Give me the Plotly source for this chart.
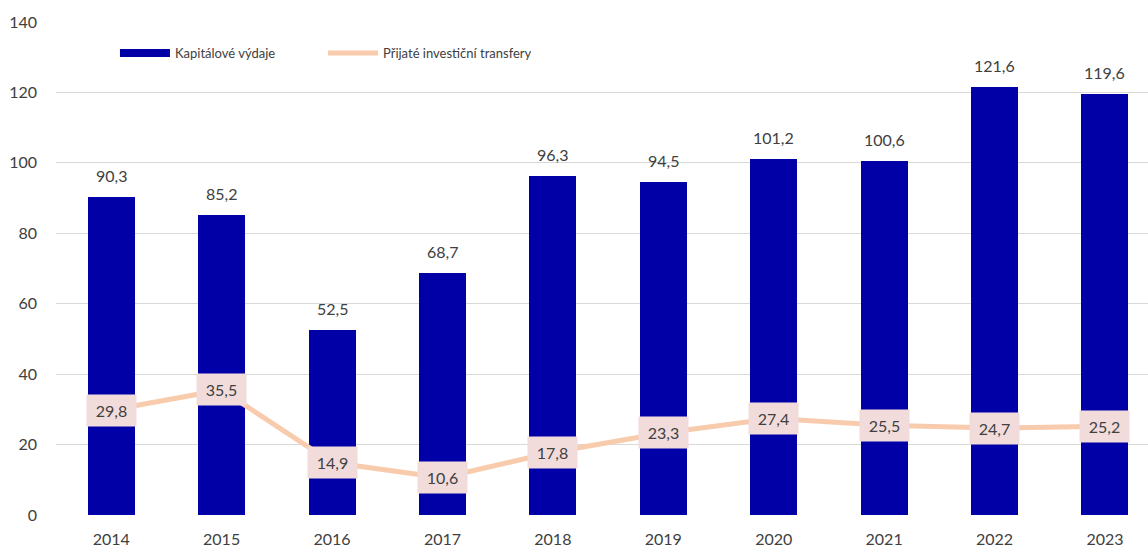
import plotly.graph_objects as go

years = ["2014", "2015", "2016", "2017", "2018", "2019", "2020", "2021", "2022", "2023"]
kapitalove = [90.3, 85.2, 52.5, 68.7, 96.3, 94.5, 101.2, 100.6, 121.6, 119.6]
transfery = [29.8, 35.5, 14.9, 10.6, 17.8, 23.3, 27.4, 25.5, 24.7, 25.2]
y_ticks = [0, 20, 40, 60, 80, 100, 120, 140]

def fmt(v):
    return f"{v:.1f}".replace(".", ",")

FONT = "Lato, Open Sans, sans-serif"
TXT = "#404040"
BAR_C = "#0000A6"
LINE_C = "#F8CBAD"

idx = list(range(len(years)))

fig = go.Figure()
fig.add_trace(go.Bar(
    x=idx, y=kapitalove, width=0.426, marker=dict(color=BAR_C, line=dict(width=0)),
    showlegend=False, name="Kapitálové výdaje",
))
fig.add_trace(go.Scatter(
    x=idx, y=transfery, mode="lines", line=dict(color=LINE_C, width=5),
    showlegend=False, name="Přijaté investiční transfery",
))
# legend proxies
fig.add_trace(go.Scatter(x=[None], y=[None], mode="lines", line=dict(color=BAR_C, width=8),
                         name="Kapitálové výdaje"))
fig.add_trace(go.Scatter(x=[None], y=[None], mode="lines", line=dict(color=LINE_C, width=5),
                         name="Přijaté investiční transfery"))

for i, v in zip(idx, kapitalove):
    fig.add_annotation(x=i, y=v, text=fmt(v), showarrow=False, yanchor="bottom", yshift=10,
                       font=dict(size=16, color=TXT, family=FONT))

for i, v in zip(idx, transfery):
    fig.add_annotation(x=i, y=v, text=fmt(v), showarrow=False,
                       font=dict(size=16, color=TXT, family=FONT),
                       bgcolor="#F2DCDB", borderpad=6, width=37)

fig.update_layout(
    width=1148, height=548,
    margin=dict(l=56, r=0, t=22, b=31),
    plot_bgcolor="white", paper_bgcolor="white",
    font=dict(family=FONT, color=TXT),
    bargap=0,
    legend=dict(orientation="h", x=0.054, y=0.937, xanchor="left", yanchor="middle",
                font=dict(size=13, color=TXT, family=FONT), entrywidth=143, entrywidthmode="pixels",
                bgcolor="rgba(0,0,0,0)", itemwidth=50),
    xaxis=dict(range=[-0.5, 9.39], tickmode="array", tickvals=idx, ticktext=years,
               showgrid=False, zeroline=False, showline=False, ticks="",
               tickfont=dict(size=16, color=TXT, family=FONT), ticklabelstandoff=13),
    yaxis=dict(range=[0, 140], tickvals=y_ticks, showgrid=True, gridcolor="#D9D9D9", gridwidth=1,
               zeroline=False, showline=False, ticks="",
               tickfont=dict(size=16, color=TXT, family=FONT), ticklabelstandoff=18),
)

fig.write_html("out.html", config={"displayModeBar": False},
               post_script="document.body.style.margin='0';")
